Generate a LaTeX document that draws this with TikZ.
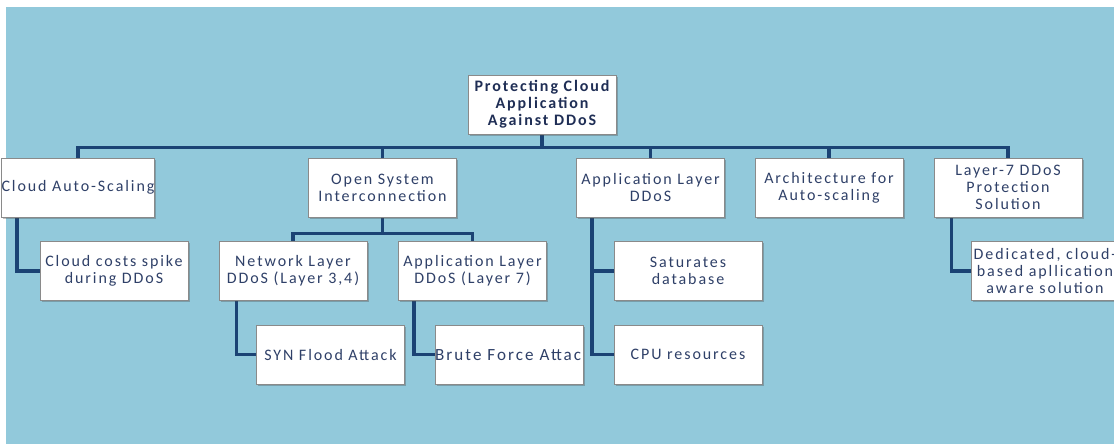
\documentclass[tikz,border=0pt]{standalone}
\usepackage{fontspec}
\setmainfont{Carlito}[LetterSpace=12]
\usetikzlibrary{shadows,calc,backgrounds}
\definecolor{bgblue}{HTML}{92C9DB}
\definecolor{wire}{HTML}{1B4374}
\definecolor{ink}{HTML}{2F4068}
\definecolor{inkdark}{HTML}{1F2E55}
\definecolor{rim}{HTML}{8A8A8A}
\newcommand{\cardfont}{\fontsize{12}{12.6}\selectfont}

\begin{document}
\begin{tikzpicture}[x=0.75pt,y=-0.75pt,
  card/.style={draw=rim, line width=0.6pt, fill=white,
    drop shadow={shadow xshift=1.2pt, shadow yshift=-1.2pt, opacity=0.35, fill=black!70},
    minimum width=111pt, minimum height=44.25pt, inner sep=0pt,
    align=center, font=\cardfont, text=ink},
  rootcard/.style={card, font=\cardfont\bfseries, text=inkdark},
  wire/.style={draw=wire, line width=2.8pt}]

\useasboundingbox (0,0) rectangle (1114,444);

% top of the tree
\node[rootcard] (root) at (542,104.5) {Protecting Cloud\\Application\\Against DDoS};

% first level
\node[card] (cas)  at (78,187.5)    {Cloud Auto-Scaling};
\node[card] (osi)  at (382.5,187.5) {Open System\\Interconnection};
\node[card] (ald)  at (650.5,187.5) {Application Layer\\DDoS};
\node[card] (arch) at (829,187.5)   {Architecture for\\Auto-scaling};
\node[card] (l7)   at (1008,187.5)  {Layer-7 DDoS\\Protection\\Solution};

% second level
\node[card] (costs) at (114,271)   {Cloud costs spike\\during DDoS};
\node[card] (net)   at (293,271)   {Network Layer\\DDoS (Layer 3,4)};
\node[card] (app7)  at (472.5,271) {Application Layer\\DDoS (Layer 7)};
\node[card] (sat)   at (688,271)   {Saturates\\database};
\node[card] (ded)   at (1045,271)  {Dedicated, cloud-\\based apllication\\aware solution};

% third level (the long label is cut by its box)
\node[card] (syn)   at (330.5,354.5) {SYN Flood Attack};
\node[card, path picture={\node[font=\fontsize{12.8}{13}\selectfont, text=ink]
    at ([xshift=3pt]path picture bounding box.center) {Brute Force Attack};}]
  (brute) at (509,354.5) {};
\node[card] (cpu)   at (688,354.5) {CPU resources};

\begin{pgfonlayer}{background}
  \fill[bgblue] (6,7) rectangle (1114,444);

  % main bus under the root
  \coordinate (bus) at ($(root.south)+(0,13)$);
  \foreach \kid in {cas,osi,ald,arch,l7}
    \draw[wire] (root.south) -- (bus) -| (\kid.north);

  % bus under the OSI box
  \coordinate (osibus) at ($(osi.south)+(0,16)$);
  \foreach \kid in {net,app7}
    \draw[wire] (osi.south) -- (osibus) -| (\kid.north);

  % side drops
  \draw[wire] ($(cas.south west)+(16,0)$) |- (costs.west);
  \draw[wire] ($(net.south west)+(18,0)$) |- (syn.west);
  \draw[wire] ($(app7.south west)+(16,0)$) |- (brute.west);
  \draw[wire] ($(ald.south west)+(16,0)$) |- (sat.west);
  \draw[wire] ($(ald.south west)+(16,0)$) |- (cpu.west);
  \draw[wire] ($(l7.south west)+(18,0)$) |- (ded.west);
\end{pgfonlayer}
\end{tikzpicture}
\end{document}
